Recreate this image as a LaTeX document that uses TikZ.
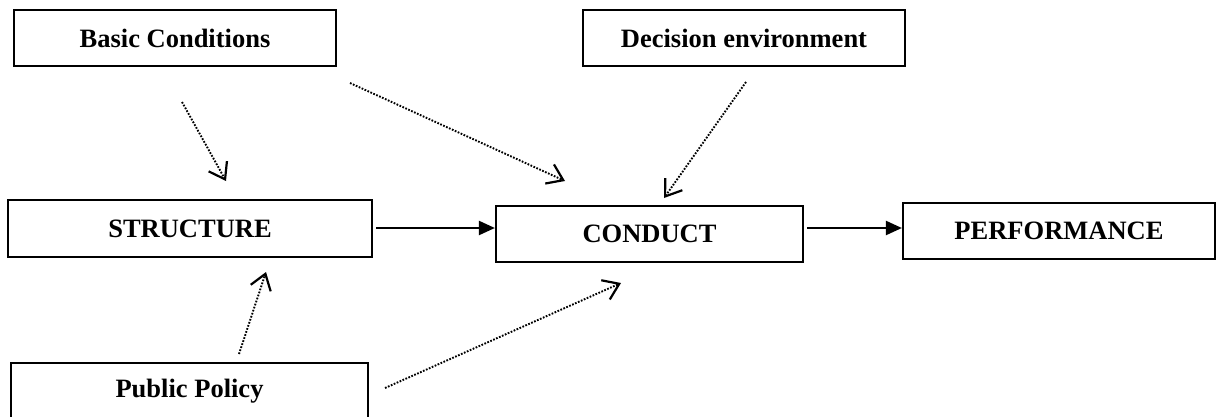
\documentclass[tikz,border=0pt]{standalone}
\usepackage{fontspec}
\setmainfont{Liberation Serif}
\usetikzlibrary{arrows.meta}
\begin{document}
\begin{tikzpicture}[x=1pt,y=-1pt,
  box/.style={draw, line width=2.2pt, inner sep=0pt, font=\fontsize{26.5}{30}\selectfont\bfseries},
  solidarrow/.style={line width=2.2pt, -{Triangle[length=16pt,width=14pt]}},
  dotarrow/.style={line width=1.9pt, dash pattern=on 1.7pt off 1.5pt, -{Straight Barb[length=15pt,width=21pt,line width=2.2pt]}}]
\useasboundingbox (0,0) rectangle (1217,417);
\clip (0,0) rectangle (1217,417);
\fill[white] (0,0) rectangle (1217,417);

\node[box, minimum width=322pt, minimum height=56pt] (basic) at (175,38) {Basic Conditions};
\node[box, minimum width=322pt, minimum height=56pt] (decision) at (744,38) {Decision environment};
\node[box, minimum width=364pt, minimum height=57pt] (structure) at (190,228.5) {STRUCTURE};
\node[box, minimum width=307pt, minimum height=56pt] (conduct) at (649.5,234) {CONDUCT};
\node[box, minimum width=312pt, minimum height=56pt] (performance) at (1059,231) {PERFORMANCE};
\node[box, minimum width=357pt, minimum height=56pt] (public) at (189.5,391) {Public Policy};

\coordinate (b1) at (182,102);
\coordinate (b1e) at (226,181);
\coordinate (b2) at (350,83);
\coordinate (b2e) at (565,181);
\coordinate (d1) at (746,82);
\coordinate (d1e) at (664,198);
\coordinate (p1) at (239,354);
\coordinate (p1e) at (266,272);
\coordinate (p2) at (385,388);
\coordinate (p2e) at (621,283);

\draw[dotarrow] (b1) -- (b1e);
\draw[dotarrow] (b2) -- (b2e);
\draw[dotarrow] (d1) -- (d1e);
\draw[dotarrow] (p1) -- (p1e);
\draw[dotarrow] (p2) -- (p2e);

\draw[solidarrow, shorten <=3pt] ([yshift=0.5pt]structure.east) -- ([yshift=0.5pt]structure.east -| conduct.west);
\draw[solidarrow, shorten <=3pt] ([yshift=6pt]conduct.east) -- ([yshift=3pt]performance.west);
\end{tikzpicture}
\end{document}
